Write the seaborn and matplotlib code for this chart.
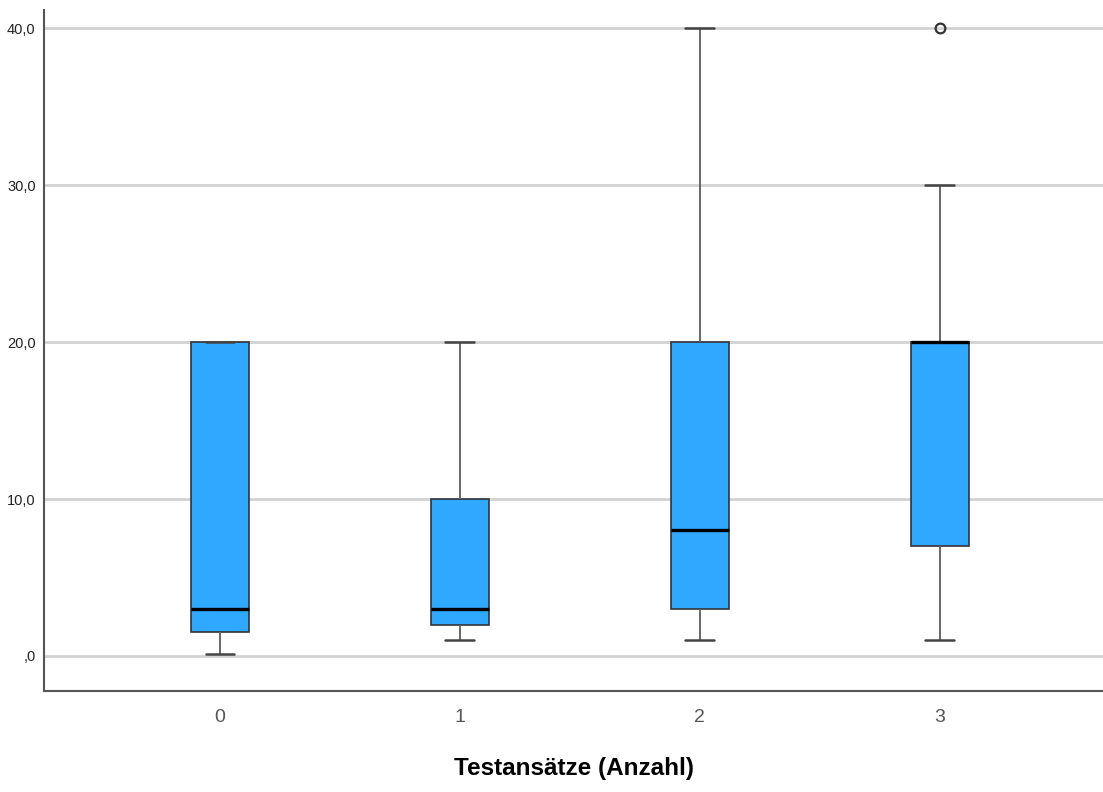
import numpy as np
import pandas as pd
import seaborn as sns
import matplotlib.pyplot as plt
from matplotlib.ticker import FuncFormatter

# values per group
groups = ["0", "1", "2", "3"]
g0 = [0.1, 1.5, 3, 20, 20]
g1 = [1, 2, 3, 10, 20]
g2 = [1, 3, 8, 20, 40]
g3 = [1, 7, 7, 20, 20, 20, 20, 30, 40]
yticks = [0, 10, 20, 30, 40]

rows = []
for name, vals in zip(groups, [g0, g1, g2, g3]):
    for v in vals:
        rows.append({"group": name, "value": v})
df = pd.DataFrame(rows)

sns.set_style("white")
plt.rcParams['font.family'] = ['Liberation Sans', 'DejaVu Sans']

fig = plt.figure(figsize=(11.03, 7.92), dpi=100)
ax = fig.add_axes([44 / 1103, 101 / 792, 1 - 44 / 1103, 681 / 792])

sns.boxplot(data=df, x="group", y="value", order=groups, ax=ax,
            color="#2EA9FF", saturation=1, width=0.24, whis=1.5,
            linewidth=1.2, linecolor="#333333",
            medianprops={"color": "black", "linewidth": 2.4},
            whiskerprops={"color": "#666666", "linewidth": 1.4},
            capprops={"color": "#444444", "linewidth": 1.8},
            flierprops={"marker": "o", "markersize": 7, "markerfacecolor": "none",
                        "markeredgecolor": "#333333", "markeredgewidth": 1.6},
            zorder=3)

ax.set_xlim(-0.733, 3.68)
ax.set_ylim(-2.23, 41.15)
ax.set_yticks(yticks)
ax.yaxis.set_major_formatter(FuncFormatter(
    lambda v, p: ",0" if v == 0 else f"{v:.1f}".replace(".", ",")))
ax.grid(axis="y", color="#D2D2D2", linewidth=2, zorder=0)
ax.set_axisbelow(True)

for s in ["top", "right"]:
    ax.spines[s].set_visible(False)
ax.spines["left"].set_color("#555555")
ax.spines["left"].set_linewidth(1.5)
ax.spines["bottom"].set_color("#555555")
ax.spines["bottom"].set_linewidth(1.5)

ax.tick_params(axis="y", length=0, labelsize=10.5, pad=6, labelcolor="#222222")
ax.tick_params(axis="x", length=0, labelsize=14, pad=13, labelcolor="#555555")
ax.set_ylabel("")
ax.set_xlabel("Testansätze (Anzahl)", fontsize=17.5, fontweight="bold",
              color="black", labelpad=22)

fig.savefig("out.png", dpi=100)
